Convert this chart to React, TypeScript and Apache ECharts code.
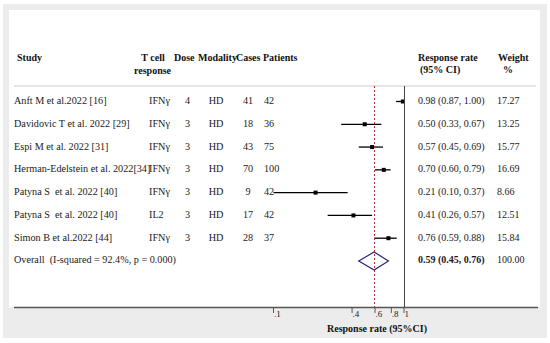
import React, { useEffect, useRef } from "react";
import * as echarts from "echarts";

const studies = [
  "Anft M et al.2022 [16]",
  "Davidovic T et al. 2022 [29]",
  "Espi M et al. 2022 [31]",
  "Herman-Edelstein et al. 2022[34]",
  "Patyna S  et al. 2022 [40]",
  "Patyna S  et al. 2022 [40]",
  "Simon B et al.2022 [44]",
];
const tcell = ["IFNγ", "IFNγ", "IFNγ", "IFNγ", "IFNγ", "IL2", "IFNγ"];
const doses = [4, 3, 3, 3, 3, 3, 3];
const modality = ["HD", "HD", "HD", "HD", "HD", "HD", "HD"];
const cases = [41, 18, 43, 70, 9, 17, 28];
const patients = [42, 36, 75, 100, 42, 42, 37];
const rate = [0.98, 0.5, 0.57, 0.7, 0.21, 0.41, 0.76];
const lower = [0.87, 0.33, 0.45, 0.6, 0.1, 0.26, 0.59];
const upper = [1.0, 0.67, 0.69, 0.79, 0.37, 0.57, 0.88];
const weights = ["17.27", "13.25", "15.77", "16.69", "8.66", "12.51", "15.84"];

const overallLabel = "Overall  (I-squared = 92.4%, p = 0.000)";
const overallRate = 0.59;
const overallLower = 0.45;
const overallUpper = 0.76;
const overallWeight = "100.00";

const tickValues = [0.1, 0.4, 0.6, 0.8, 1];
const tickLabels = [".1", ".4", ".6", ".8", "1"];

const SERIF = "Liberation Serif";

const fmt = (v: number) => v.toFixed(2);

export default function App() {
  const ref = useRef<HTMLDivElement>(null);
  useEffect(() => {
    const chart = echarts.init(ref.current!, null, { renderer: "svg" });
    const n = studies.length;

    const txt = (x: number, y: number, text: string, o: any = {}) => ({
      type: "text",
      x,
      y,
      style: {
        text,
        fontFamily: SERIF,
        fontSize: 10.2,
        fill: "#1a1a1a",
        align: "left",
        verticalAlign: "middle",
        ...o,
      },
    });

    const headerStyle = { fontWeight: "bold", fontSize: 10, fill: "#111" };
    const numSize = 10;

    const option: any = {
      animation: false,
      backgroundColor: "#ffffff",
      textStyle: { fontFamily: SERIF },
      grid: { left: 273.5, right: 146, top: 86, bottom: 36 },
      xAxis: {
        type: "log",
        logBase: 10,
        min: 0.1,
        max: 1,
        axisLine: { show: false },
        axisTick: { show: false },
        axisLabel: { show: false },
        splitLine: { show: false },
      },
      yAxis: {
        type: "value",
        inverse: true,
        min: -0.68,
        max: 9.02,
        axisLine: { show: false },
        axisTick: { show: false },
        axisLabel: { show: false },
        splitLine: { show: false },
      },
      graphic: [
        { type: "rect", z: -10, shape: { x: 3, y: 4, width: 544, height: 334 }, style: { fill: "#ececec" } },
        { type: "rect", z: -9, shape: { x: 9, y: 10, width: 531, height: 297 }, style: { fill: "#ffffff" } },
        { type: "line", shape: { x1: 14, y1: 86, x2: 536, y2: 86 }, style: { stroke: "#dcdcdc", lineWidth: 1.5 } },
        { type: "line", shape: { x1: 14, y1: 307.5, x2: 538, y2: 307.5 }, style: { stroke: "#555555", lineWidth: 1.5 } },
        txt(17, 57, "Study", headerStyle),
        txt(153, 57, "T cell", { ...headerStyle, align: "center" }),
        txt(152.5, 70, "response", { ...headerStyle, align: "center" }),
        txt(174, 57, "Dose", headerStyle),
        txt(198, 57, "Modality", headerStyle),
        txt(236, 57, "Cases", headerStyle),
        txt(263, 57, "Patients", headerStyle),
        txt(418, 57, "Response rate", headerStyle),
        txt(420, 69.5, "(95% CI)", headerStyle),
        txt(498, 57, "Weight", headerStyle),
        txt(503, 69.5, "%", headerStyle),
        txt(377, 328, "Response rate (95%CI)", { ...headerStyle, align: "center" }),
      ],
      series: [
        {
          type: "custom",
          name: "table",
          silent: true,
          data: [...studies.map((_, i) => [1, i]), [1, n]],
          renderItem: (_p: any, api: any) => {
            const i = api.value(1);
            const y = api.coord([1, i])[1] - 1;
            if (i === n) {
              return {
                type: "group",
                children: [
                  txt(14, y, overallLabel),
                  txt(418, y, `${fmt(overallRate)} (${fmt(overallLower)}, ${fmt(overallUpper)})`, {
                    fontSize: numSize,
                    fontWeight: "bold",
                  }),
                  txt(497, y, overallWeight, { fontSize: numSize }),
                ],
              };
            }
            return {
              type: "group",
              children: [
                txt(14, y, studies[i]),
                txt(149, y, tcell[i]),
                txt(187.5, y, String(doses[i]), { align: "center" }),
                txt(216, y, modality[i], { align: "center" }),
                txt(248, y, String(cases[i]), { align: "center" }),
                txt(264, y, String(patients[i])),
                txt(418, y, `${fmt(rate[i])} (${fmt(lower[i])}, ${fmt(upper[i])})`, { fontSize: numSize }),
                txt(497, y, weights[i], { fontSize: numSize }),
              ],
            };
          },
        },
        {
          type: "custom",
          name: "ci",
          silent: true,
          data: rate.map((r, i) => [lower[i], upper[i], r, i]),
          renderItem: (_p: any, api: any) => {
            const row = api.value(3);
            const lo = api.coord([api.value(0), row]);
            const hi = api.coord([api.value(1), row]);
            const c = api.coord([api.value(2), row]);
            return {
              type: "group",
              children: [
                { type: "line", shape: { x1: lo[0], y1: lo[1], x2: hi[0], y2: hi[1] }, style: { stroke: "#000", lineWidth: 1.3 } },
                { type: "rect", shape: { x: c[0] - 2, y: c[1] - 2, width: 4, height: 4 }, style: { fill: "#000" } },
              ],
            };
          },
        },
        {
          type: "custom",
          name: "overall",
          silent: true,
          data: [[overallLower, overallUpper, overallRate, n]],
          renderItem: (_p: any, api: any) => {
            const row = api.value(3);
            const lo = api.coord([api.value(0), row]);
            const hi = api.coord([api.value(1), row]);
            const c = api.coord([api.value(2), row]);
            return {
              type: "polygon",
              shape: { points: [lo, [c[0], c[1] - 9], hi, [c[0], c[1] + 9]] },
              style: { fill: "none", stroke: "#26267a", lineWidth: 1.2 },
            };
          },
          markLine: {
            silent: true,
            symbol: "none",
            label: { show: false },
            data: [
              { xAxis: overallRate, lineStyle: { color: "#b5302a", type: [2, 2], width: 1 } },
              { xAxis: 1, lineStyle: { color: "#444444", type: "solid", width: 1 } },
            ],
          },
        },
        {
          type: "custom",
          name: "ticks",
          silent: true,
          data: tickValues.map((v, i) => [v, i]),
          renderItem: (p: any, api: any) => {
            const x = api.coord([api.value(0), 0])[0];
            const yb = p.coordSys.y + p.coordSys.height;
            const label = tickLabels[api.value(1)];
            return {
              type: "group",
              children: [
                { type: "line", shape: { x1: x, y1: yb + 1, x2: x, y2: yb + 6 }, style: { stroke: "#333", lineWidth: 0.8 } },
                txt(x + 0.5, yb + 7, label, { fontSize: 9 }),
              ],
            };
          },
        },
      ],
    };
    chart.setOption(option);
    return () => chart.dispose();
  }, []);
  return <div ref={ref} style={{ position: "fixed", left: 0, top: 0, width: 550, height: 343 }} />;
}
